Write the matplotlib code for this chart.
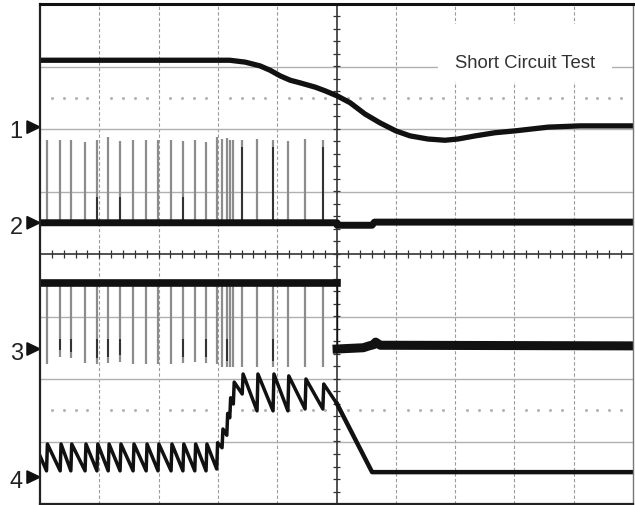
"""
Scope capture: short circuit test, 4 channels.
x in divisions (0..10), y in divisions (-4..4).
"""

import numpy as np
import matplotlib.pyplot as plt
from matplotlib.patches import Polygon, Rectangle

plt.rcParams['font.family'] = ['Liberation Sans', 'DejaVu Sans']

# switching events (ch2 pulses, ch3 dips, ch4 current ramps)
pulse_t = [0.11, 0.34, 0.52, 0.76, 0.96, 1.15, 1.35, 1.57, 1.79, 1.99,
           2.21, 2.41, 2.61, 2.80, 2.98, 3.07, 3.15, 3.20, 3.26, 3.41,
           3.66, 3.93, 4.18, 4.47, 4.77]
ch2_top = [1.82, 1.83, 1.82, 1.80, 1.82, 1.88, 1.81, 1.82, 1.82, 1.83,
           1.82, 1.81, 1.82, 1.80, 1.88, 1.84, 1.85, 1.83, 1.82, 1.82,
           1.84, 1.82, 1.81, 1.84, 1.82]
ch3_bottom = [-1.76, -1.64, -1.66, -1.74, -1.76, -1.74, -1.72, -1.76, -1.76, -1.76,
              -1.76, -1.74, -1.72, -1.74, -1.76, -1.80, -1.81, -1.81, -1.81, -1.81,
              -1.81, -1.81, -1.81, -1.80, -1.80]
ch2_dark = [4, 6, 11, 19, 21, 24]
ch3_dark = [1, 2, 4, 5, 6, 11, 13, 16, 21]

# channel 1: output voltage
ch1_t = [0.0, 3.20, 3.46, 3.71, 3.88, 4.05, 4.22, 4.38, 4.64, 4.81, 5.01, 5.23,
         5.48, 5.73, 6.00, 6.24, 6.54, 6.83, 7.05, 7.34, 7.67, 8.01, 8.57, 9.11, 10.0]
ch1_v = [3.10, 3.10, 3.07, 3.01, 2.94, 2.85, 2.78, 2.74, 2.67, 2.61, 2.53, 2.42,
         2.24, 2.10, 1.97, 1.89, 1.84, 1.82, 1.84, 1.89, 1.94, 1.97, 2.03, 2.05, 2.05]

# channel 2 / 3 baselines
ch2_t = [0.0, 5.01, 5.01, 5.60, 5.64, 10.0]
ch2_v = [0.50, 0.50, 0.46, 0.46, 0.51, 0.51]
ch3_t = [0.0, 5.01, 5.01, 5.45, 5.55, 5.63, 5.66, 5.74, 10.0]
ch3_v = [-0.46, -0.46, -1.52, -1.50, -1.47, -1.45, -1.41, -1.46, -1.47]

# channel 4: inductor current, level just before / after each pulse
ch4_start = -3.23
ch4_low = [-3.47] * 14 + [-3.44, -3.10, -2.90, -2.62, -2.40, -2.24,
                          -2.51, -2.51, -2.51, -2.48, -2.48]
ch4_high = [-3.04] * 14 + [-3.02, -2.80, -2.55, -2.30, -2.05, -1.92,
                           -1.92, -1.92, -1.95, -2.00, -2.08]
ch4_tail_t = [5.01, 5.60, 10.0]
ch4_tail_v = [-2.40, -3.49, -3.49]

markers = {'1': 2.03, '2': 0.50, '3': -1.52, '4': -3.57}

fig = plt.figure(figsize=(6.35, 5.06), dpi=100)
ax = fig.add_axes([40/635, 1/506, 593/635, 500/506])
ax.set_xlim(0, 10)
ax.set_ylim(-4, 4)
ax.set_xticks([])
ax.set_yticks([])

# graticule
for x in range(1, 10):
    if x != 5:
        ax.axvline(x, color='#9a9a9a', lw=0.8, ls=(0, (3, 2)), zorder=1)
for y in [-3, -2, -1, 1, 2, 3]:
    ax.axhline(y, color='#b0b0b0', lw=1.0, zorder=1)
dots = np.array([v for v in np.arange(0.2, 10, 0.2) if abs(v - round(v)) > 0.05])
for y in [2.5, -2.5]:
    ax.plot(dots, np.full(len(dots), y), ls='none', marker='s', ms=1.0,
            color='#b0b0b0', zorder=1)
ax.axhline(0, color='#333333', lw=1.2, zorder=2)
ax.axvline(5, color='#333333', lw=1.2, zorder=2)
minor = np.arange(0.2, 10, 0.2)
ax.vlines(minor, -0.065, 0.065, color='#333333', lw=0.9, zorder=2)
minor_y = np.arange(-3.8, 4, 0.2)
ax.hlines(minor_y, 4.935, 5.065, color='#333333', lw=0.9, zorder=2)

# title box
ax.add_patch(Rectangle((6.71, 2.75), 2.94, 0.93, facecolor='white',
                       edgecolor='none', zorder=3))
ax.text(8.18, 3.07, 'Short Circuit Test', ha='center', va='center',
        fontsize=13.3, color='#333333', zorder=4)

# pulses
ax.vlines(pulse_t, 0.5, ch2_top, color='#8c8c8c', lw=1.6, zorder=5)
ax.vlines([pulse_t[i] for i in ch2_dark], 0.5,
          [ch2_top[i] - 0.9 if i < 12 else ch2_top[i] - 0.1 for i in ch2_dark],
          color='#222222', lw=1.2, zorder=5)
ax.vlines(pulse_t, -0.46, ch3_bottom, color='#8c8c8c', lw=1.6, zorder=5)
ax.vlines([pulse_t[i] for i in ch3_dark], -1.36,
          [ch3_bottom[i] + 0.1 for i in ch3_dark],
          color='#222222', lw=1.2, zorder=5)

# traces
ax.plot(ch1_t, ch1_v, color='#111111', lw=3.8, zorder=6, solid_joinstyle='round')
ax.plot(ch2_t, ch2_v, color='#111111', lw=5.0, zorder=6)
ax.plot(ch3_t[:2], ch3_v[:2], color='#111111', lw=5.5, zorder=6)
ax.plot(ch3_t[1:3], ch3_v[1:3], color='#111111', lw=1.0, zorder=6)
ax.plot(ch3_t[2:], ch3_v[2:], color='#111111', lw=6.5, zorder=6)

saw_t = [0.0]
saw_v = [ch4_start]
for t, lo, hi in zip(pulse_t, ch4_low, ch4_high):
    saw_t += [t, t + 0.015]
    saw_v += [lo, hi]
saw_t += ch4_tail_t[:1]
saw_v += ch4_tail_v[:1]
ax.plot(saw_t, saw_v, color='#111111', lw=2.5, zorder=6, solid_joinstyle='round')
ax.plot(ch4_tail_t, ch4_tail_v, color='#111111', lw=3.2, zorder=6,
        solid_joinstyle='round')

# channel markers
for name, y in markers.items():
    ax.add_patch(Polygon([(-0.22, y + 0.1), (-0.22, y - 0.1), (0.0, y)],
                         closed=True, color='#111111', clip_on=False, zorder=7))
    ax.text(-0.29, y - 0.07, name, ha='right', va='center', fontsize=17,
            color='#222222', clip_on=False)

# frame
for side, lw, col in [('top', 2.2, '#111111'), ('left', 1.6, '#222222'),
                      ('bottom', 1.6, '#222222'), ('right', 1.0, '#777777')]:
    ax.spines[side].set_linewidth(lw)
    ax.spines[side].set_color(col)
    ax.spines[side].set_zorder(8)

fig.savefig('out.png', dpi=100)
